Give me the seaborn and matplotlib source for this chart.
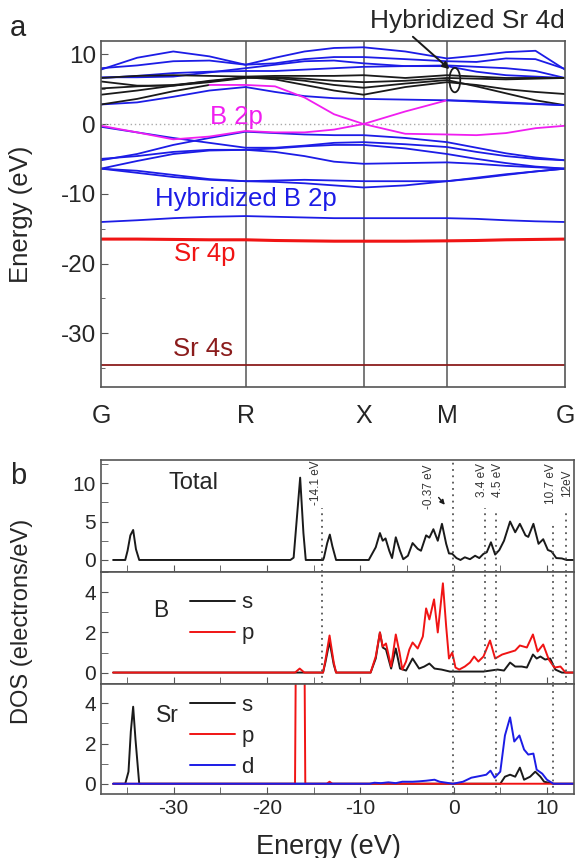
import numpy as np
import matplotlib
matplotlib.use('Agg')
import matplotlib.pyplot as plt
import seaborn as sns
from matplotlib.ticker import MultipleLocator
from matplotlib.patches import Ellipse

# ---- band structure data (energies in eV read at sampled k points) ----
kpath_labels = ['G', 'R', 'X', 'M', 'G']
kpath_seg_len = [1.732, 1.414, 1.0, 1.414]   # G-R, R-X, X-M, M-G
kpath_seg_pts = [4, 4, 2, 4]

# blue bands (hybridized B 2p and upper bands)
v1 = [-6.4, -7.0, -7.6, -8.0, -8.2, -8.3, -8.5, -8.8, -9.1, -8.8, -8.2, -7.8, -7.3, -6.8, -6.4]
v2 = [-6.4, -6.7, -7.3, -7.9, -8.2, -8.1, -8.0, -8.1, -8.2, -8.2, -8.2, -7.7, -7.2, -6.8, -6.4]
v3 = [-6.4, -5.3, -4.3, -3.8, -3.7, -4.0, -4.6, -5.4, -5.7, -5.6, -5.5, -5.7, -6.0, -6.2, -6.4]
v4 = [-5.2, -4.3, -3.0, -2.0, -1.1, -1.3, -1.5, -1.6, -1.6, -2.0, -2.6, -3.4, -4.2, -4.8, -5.2]
v5 = [-0.4, -1.2, -2.0, -2.7, -3.4, -3.4, -3.1, -2.7, -2.6, -2.9, -3.3, -4.0, -4.6, -5.0, -5.2]
v6 = [-5.0, -4.6, -4.0, -3.7, -3.7, -3.5, -3.2, -3.0, -3.0, -3.5, -4.3, -5.0, -5.6, -6.1, -6.4]
u1 = [7.8, 9.5, 10.4, 9.7, 8.5, 9.5, 10.4, 10.9, 11.0, 10.4, 9.4, 9.8, 10.3, 10.5, 7.8]
u2 = [8.0, 8.4, 9.0, 9.1, 8.5, 8.7, 9.3, 9.6, 9.6, 9.3, 9.0, 8.9, 9.4, 9.3, 7.9]
u3 = [6.7, 6.7, 6.8, 7.4, 8.0, 8.5, 9.0, 9.1, 8.7, 8.3, 8.4, 8.2, 8.0, 7.6, 6.6]
u4 = [6.6, 6.9, 7.3, 7.5, 7.6, 7.6, 7.8, 8.0, 8.2, 8.3, 8.3, 7.5, 7.0, 6.8, 6.6]
u5 = [2.8, 3.1, 3.9, 4.8, 5.3, 4.6, 4.0, 3.7, 3.6, 3.5, 3.4, 3.2, 3.0, 2.85, 2.7]
b2s = [-14.05, -13.8, -13.5, -13.3, -13.2, -13.3, -13.4, -13.5, -13.5, -13.5, -13.5, -13.6, -13.8, -13.95, -14.05]
# black bands (Sr 4d)
k2 = [4.2, 4.8, 5.5, 6.2, 6.7, 6.4, 5.6, 4.8, 4.2, 5.3, 6.0, 5.6, 5.0, 4.6, 4.3]
k3 = [5.1, 5.4, 5.6, 6.1, 6.7, 6.6, 6.2, 5.6, 5.2, 5.8, 6.3, 5.4, 4.4, 3.4, 2.7]
k4 = [6.1, 5.5, 5.5, 6.0, 6.6, 6.7, 6.5, 6.2, 6.0, 6.2, 6.6, 6.5, 6.4, 6.5, 6.6]
k5 = [6.6, 6.9, 7.0, 6.9, 6.8, 6.9, 6.9, 6.9, 7.0, 6.6, 7.0, 6.8, 6.6, 6.6, 6.6]
# bands with B 2p (magenta) character
mA = [-0.25, -1.2, -2.2, -1.8, -1.0, -1.2, -1.2, -0.8, 0.0, 1.8, 3.4, 3.3, 3.1, 2.9, 2.7]
mB = [2.8, 3.6, 4.7, 5.6, 5.6, 5.4, 3.8, 1.4, 0.0, -1.4, -1.5, -1.6, -1.3, -0.6, -0.25]
# core-like Sr bands
sr4p_band = [-16.5, -16.5, -16.55, -16.6, -16.6, -16.7, -16.75, -16.8, -16.8, -16.8, -16.75, -16.7, -16.6, -16.55, -16.5]
sr4s_band = [-34.55] * 15

# ---- DOS data ----
tot_e = [-36.5, -35.2, -34.95, -34.65, -34.35, -34.05, -33.7, -17.5, -17.15, -16.8, -16.45, -16.1, -15.85,
         -14.0, -13.9, -13.55, -13.27, -13.0, -12.6, -9.1, -8.35, -7.9, -7.6, -7.3, -6.9, -6.6, -6.2, -5.75,
         -5.4, -4.9, -4.4, -3.85, -3.5, -2.95, -2.6, -2.17, -1.7, -1.25, -0.8, -0.5, -0.15, 0.3, 0.73, 1.2,
         1.75, 2.3, 2.75, 3.2, 3.55, 4.0, 4.45, 4.9, 5.4, 6.05, 6.6, 7.1, 7.7, 8.0, 8.55, 9.1, 9.6, 10.1,
         10.5, 11.0, 11.6, 12.1, 13.0]
tot_d = [0, 0, 1.2, 3.2, 3.9, 1.4, 0, 0, 0.3, 5.5, 10.7, 3.5, 0,
         0, 0.3, 2.2, 3.3, 1.8, 0, 0, 1.65, 3.5, 2.5, 2.8, 1.2, 0.25, 2.95, 1.2,
         0.1, 0.55, 2.2, 1.45, 1.2, 3.2, 2.9, 4.0, 2.5, 4.7, 2.1, 0.85, 0.8, 0.25, 0.0, 0.35,
         0.1, 0.55, 0.25, 0.8, 1.0, 2.3, 0.7, 1.3, 2.5, 5.0, 3.6, 4.7, 3.2, 3.0, 4.7, 2.1, 2.7, 1.3,
         1.1, 0.25, 0.2, 0.0, 0.0]

bs_e = [-36.5, -14.0, -13.75, -13.3, -12.85, -12.6, -8.9, -8.35, -7.9, -7.6, -7.25, -6.7, -6.2, -5.75,
        -5.1, -4.4, -3.7, -3.15, -2.6, -2.05, -1.3, -0.4, 3.2, 4.7, 5.4, 6.05, 6.6, 7.3, 7.85, 8.5, 8.9,
        9.3, 9.8, 10.35, 10.9, 11.6, 13.0]
bs_d = [0, 0, 0.5, 1.55, 0.4, 0, 0, 0.7, 2.0, 1.25, 1.15, 0.2, 1.2, 0.2,
        0.1, 0.7, 0.2, 0.3, 0.45, 0.2, 0.15, 0.05, 0.05, 0.15, 0.1, 0.5, 0.3, 0.3, 0.25, 0.9, 0.7,
        0.8, 0.65, 0.7, 0.15, 0, 0]
bp_e = [-36.5, -17.0, -16.5, -16.0, -14.0, -13.75, -13.3, -12.85, -12.6, -8.9, -8.35, -7.9, -7.6, -7.25,
        -6.7, -6.2, -5.8, -5.5, -5.1, -4.75, -4.4, -3.85, -3.3, -2.95, -2.6, -2.1, -1.7, -1.15, -0.8, -0.5,
        -0.15, 0.2, 0.6, 1.2, 1.75, 2.2, 2.65, 3.2, 3.9, 4.45, 5.2, 5.9, 6.6, 7.1, 7.85, 8.5, 9.0, 9.6,
        10.2, 10.8, 11.45, 12.0, 13.0]
bp_d = [0, 0, 0.2, 0, 0, 0.6, 1.85, 0.5, 0, 0, 0.8, 2.0, 1.3, 1.45,
        0.3, 1.9, 1.0, 0.15, 0.55, 1.15, 1.5, 1.2, 1.8, 3.2, 2.65, 3.65, 2.0, 4.45, 2.3, 0.7,
        1.0, 0.25, 0.15, 0.3, 0.5, 0.8, 0.55, 0.8, 1.6, 0.7, 0.9, 1.0, 1.1, 1.35, 1.25, 1.9, 1.05, 1.4,
        0.65, 0.25, 0.3, 0, 0]

srs_e = [-36.5, -35.2, -34.85, -34.6, -34.35, -34.1, -33.7, 5.0, 5.5, 6.05, 6.6, 7.1, 7.55, 8.2, 8.75,
         9.3, 9.7, 10.2, 10.7, 13.0]
srs_d = [0, 0, 0.6, 2.6, 3.83, 2.2, 0, 0, 0.35, 0.45, 0.35, 0.8, 0.2, 0.35, 0.6,
         0.35, 0.1, 0.05, 0, 0]
srp_e = [-36.5, -17.0, -16.8, -16.45, -16.1, -15.9, -13.6, -13.3, -13.0, 13.0]
srp_d = [0, 0, 15.0, 30.0, 15.0, 0, 0, 0.1, 0, 0]
srd_e = [-36.5, -9.0, -8.5, -7.8, -7.0, -6.2, -5.5, -4.4, -3.7, -2.95, -2.05, -1.5, -0.07, 1.0, 1.9,
         2.45, 3.0, 3.5, 3.95, 4.4, 5.0, 5.5, 6.05, 6.5, 7.05, 7.55, 8.0, 8.55, 8.9, 9.5, 10.0, 10.7, 13.0]
srd_d = [0, 0, 0.05, 0.03, 0.07, 0.03, 0.1, 0.1, 0.12, 0.15, 0.2, 0.1, 0, 0.1, 0.3,
         0.35, 0.4, 0.45, 0.65, 0.3, 0.6, 2.4, 3.3, 2.1, 2.4, 1.7, 1.45, 1.5, 0.7, 0.5, 0.2, 0, 0]

# marked energies in DOS panel
mark_e = [-14.1, -0.1, 3.4, 4.5, 10.7, 12.0]
mark_text = ['-14.1 eV', '-0.37 eV', '3.4 eV', '4.5 eV', '10.7 eV', '12eV']

# colours
BLUE = '#1c1ce6'
BLACK = '#1a1a1a'
MAG = '#f01ef0'
RED = '#f01414'
DRED = '#8b1c1c'
GREY = '#555555'

sns.set_style('ticks')
plt.rcParams['font.family'] = ['Liberation Sans', 'DejaVu Sans']
plt.rcParams['axes.unicode_minus'] = False
plt.rcParams['axes.edgecolor'] = GREY
plt.rcParams['axes.linewidth'] = 1.2

nodes = np.concatenate([[0], np.cumsum(kpath_seg_len)])
kk = np.concatenate([np.linspace(nodes[i], nodes[i + 1], kpath_seg_pts[i] + 1)[:-1]
                     for i in range(len(kpath_seg_len))] + [[nodes[-1]]])


def band(ax, e, color, lw=1.3, sl=slice(None)):
    sns.lineplot(x=kk[sl], y=np.asarray(e)[sl], color=color, lw=lw, ax=ax,
                 estimator=None, sort=False, legend=False)


fig = plt.figure(figsize=(5.76, 8.58), dpi=100)

# ---------------- panel a ----------------
ax = fig.add_axes([0.1753, 0.549, 0.8056, 0.4032])
for x in nodes[1:-1]:
    ax.axvline(x, color=GREY, lw=1.1, zorder=1)
ax.axhline(0, color='#aaaaaa', lw=1.0, ls=(0, (1, 2)), zorder=1)

for b in [v1, v2, v3, v4, v5, v6, u1, u2, u3, u4, u5, b2s]:
    band(ax, b, BLUE)
for b in [k2, k3, k4, k5]:
    band(ax, b, BLACK)
band(ax, mA, MAG, sl=slice(0, 11))
band(ax, mA, BLUE, sl=slice(10, None))
band(ax, mB, BLACK, sl=slice(0, 4))
band(ax, mB, MAG, sl=slice(3, None))
band(ax, sr4p_band, RED, lw=2.2)
band(ax, sr4s_band, DRED, lw=1.3)

ax.set_xlim(nodes[0], nodes[-1])
ax.set_ylim(-37.7, 11.9)
ax.set_xticks(nodes)
ax.set_xticklabels(kpath_labels)
ax.tick_params(axis='x', length=0, labelsize=18, pad=12)
ax.yaxis.set_major_locator(MultipleLocator(10))
ax.yaxis.set_minor_locator(MultipleLocator(5))
ax.tick_params(axis='y', which='both', direction='in', labelsize=17.5, color=GREY)
ax.tick_params(axis='y', which='major', length=5)
ax.tick_params(axis='y', which='minor', length=3)
ax.set_ylabel('Energy (eV)', fontsize=18.5)
ax.yaxis.set_label_coords(-0.146, 0.5)

ax.text(1.62, 1.0, 'B 2p', color=MAG, fontsize=18.5, ha='center', va='center')
ax.text(0.65, -10.75, 'Hybridized B 2p', color=BLUE, fontsize=18.5, ha='left', va='center')
ax.text(0.88, -18.6, 'Sr 4p', color=RED, fontsize=18.5, ha='left', va='center')
ax.text(0.86, -32.2, 'Sr 4s', color=DRED, fontsize=18.5, ha='left', va='center')
ax.add_patch(Ellipse((4.24, 6.3), 0.13, 3.5, fill=False, ec=BLACK, lw=1.3, zorder=5))
ax.annotate('Hybridized Sr 4d', xy=(4.2, 7.6), xytext=(5.56, 14.7),
            fontsize=19, ha='right', va='center', annotation_clip=False,
            arrowprops=dict(arrowstyle='-|>', color=BLACK, lw=1.4, mutation_scale=10,
                            shrinkA=0, relpos=(0.2, 0.0)))
fig.text(18 / 576, 1 - 28 / 858, 'a', fontsize=21, ha='center', va='center')

# ---------------- panel b ----------------
ax_t = fig.add_axes([0.1753, 0.333, 0.8212, 0.1309])
ax_b = fig.add_axes([0.1753, 0.2028, 0.8212, 0.1302], sharex=ax_t)
ax_s = fig.add_axes([0.1753, 0.0746, 0.8212, 0.1282], sharex=ax_t)

sns.lineplot(x=tot_e, y=tot_d, color=BLACK, lw=1.4, ax=ax_t, estimator=None, sort=False)
sns.lineplot(x=bs_e, y=bs_d, color=BLACK, lw=1.4, ax=ax_b, estimator=None, sort=False, label='s')
sns.lineplot(x=bp_e, y=bp_d, color=RED, lw=1.4, ax=ax_b, estimator=None, sort=False, label='p')
sns.lineplot(x=srs_e, y=srs_d, color=BLACK, lw=1.4, ax=ax_s, estimator=None, sort=False, label='s')
sns.lineplot(x=srp_e, y=srp_d, color=RED, lw=1.4, ax=ax_s, estimator=None, sort=False, label='p')
sns.lineplot(x=srd_e, y=srd_d, color=BLUE, lw=1.4, ax=ax_s, estimator=None, sort=False, label='d')

dot = (0, (1, 2.5))
# Total panel: dotted lines stop below their labels
tops = [6.8, 13.5, 6.8, 6.5, 4.8, 6.3]
for e, t in zip(mark_e, tops):
    ax_t.vlines(e, -1.6, t, colors=GREY, lw=1.3, ls=dot)
for e in mark_e:
    ax_b.axvline(e, color=GREY, lw=1.3, ls=dot)
for e in [mark_e[1], mark_e[3], mark_e[4]]:
    ax_s.axvline(e, color=GREY, lw=1.3, ls=dot)

lab_x = [-14.8, -2.6, 3.0, 4.75, 10.4, 12.2]
lab_y = [7.2, 6.6, 8.2, 8.2, 7.3, 8.2]
for x, y, s in zip(lab_x, lab_y, mark_text):
    ax_t.text(x, y, s, rotation=90, fontsize=8.5, ha='center', va='bottom', color='#333333')
ax_t.annotate('', xy=(-0.75, 6.9), xytext=(-1.8, 8.4),
              arrowprops=dict(arrowstyle='-|>', color=BLACK, lw=1.0, mutation_scale=7))
ax_t.text(-30.6, 10.0, 'Total', fontsize=17, va='center', ha='left')

ax_t.set_ylim(-1.6, 13.0)
ax_b.set_ylim(-0.57, 5.0)
ax_s.set_ylim(-0.51, 4.96)
ax_t.set_xlim(-37.8, 12.9)
ax_t.yaxis.set_major_locator(MultipleLocator(5))
ax_t.yaxis.set_minor_locator(MultipleLocator(2.5))
for a in [ax_b, ax_s]:
    a.yaxis.set_major_locator(MultipleLocator(2))
    a.yaxis.set_minor_locator(MultipleLocator(1))
for a in [ax_t, ax_b, ax_s]:
    a.xaxis.set_major_locator(MultipleLocator(10))
    a.xaxis.set_minor_locator(MultipleLocator(5))
    a.tick_params(which='both', direction='in', labelsize=15, color=GREY)
    a.tick_params(which='major', length=5)
    a.tick_params(which='minor', length=5)
    a.set_ylabel('')
for a in [ax_t, ax_b]:
    a.tick_params(axis='x', labelbottom=False)

leg_kw = dict(loc='upper left', frameon=False, fontsize=16, handlelength=2.0,
              handletextpad=0.3, labelspacing=0.45, borderaxespad=0)
ax_b.legend(bbox_to_anchor=(0.17, 0.9), **leg_kw)
ax_b.text(-31.4, 3.1, 'B', fontsize=16.5, va='center', ha='center')
ax_s.legend(bbox_to_anchor=(0.17, 0.98), **leg_kw)
ax_s.text(-30.7, 3.4, 'Sr', fontsize=16.5, va='center', ha='center')

ax_s.set_xlabel('Energy (eV)', fontsize=19.5, labelpad=3)
ax_s.xaxis.set_label_coords(0.48, -0.36)
fig.text(22 / 576, 1 - 621 / 858, 'DOS (electrons/eV)', rotation=90, fontsize=17,
         ha='center', va='center')
fig.text(18 / 576, 1 - 476 / 858, 'b', fontsize=21, ha='center', va='center')

fig.savefig('out.png', dpi=100)
